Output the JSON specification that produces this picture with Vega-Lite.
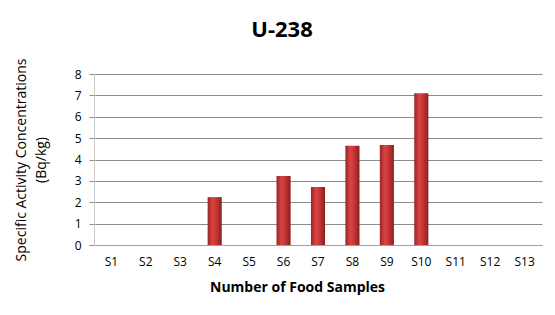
{
  "$schema": "https://vega.github.io/schema/vega-lite/v6.json",
  "autosize": "none",
  "width": 448,
  "height": 171,
  "padding": {"left": 94, "top": 74, "right": 13, "bottom": 70},
  "background": "white",
  "config": {"view": {"stroke": null}, "font": "Open Sans"},
  "title": {
    "text": "U-238",
    "fontSize": 22,
    "fontWeight": "bold",
    "font": "Open Sans",
    "color": "#000000",
    "anchor": "middle",
    "dx": -36,
    "offset": 16
  },
  "data": {
    "values": [
      {"sample": "S1", "value": 0},
      {"sample": "S2", "value": 0},
      {"sample": "S3", "value": 0},
      {"sample": "S4", "value": 2.24},
      {"sample": "S5", "value": 0},
      {"sample": "S6", "value": 3.23},
      {"sample": "S7", "value": 2.71},
      {"sample": "S8", "value": 4.64},
      {"sample": "S9", "value": 4.68},
      {"sample": "S10", "value": 7.1},
      {"sample": "S11", "value": 0},
      {"sample": "S12", "value": 0},
      {"sample": "S13", "value": 0}
    ]
  },
  "mark": {
    "type": "bar",
    "color": {
      "gradient": "linear",
      "x1": 0, "x2": 1, "y1": 0, "y2": 0,
      "stops": [
        {"offset": 0, "color": "#9a2424"},
        {"offset": 0.35, "color": "#d94444"},
        {"offset": 0.6, "color": "#c83636"},
        {"offset": 1, "color": "#8a1f1f"}
      ]
    }
  },
  "encoding": {
    "x": {
      "field": "sample",
      "type": "nominal",
      "sort": null,
      "scale": {"paddingInner": 0.59, "paddingOuter": 0.3},
      "axis": {
        "title": "Number of Food Samples",
        "titleFont": "Open Sans",
        "titleFontSize": 14,
        "titleFontWeight": "bold",
        "titleColor": "#000000",
        "titleX": 203,
        "titlePadding": 13,
        "labelAngle": 0,
        "labelFont": "Open Sans",
        "labelFontSize": 12,
        "labelColor": "#000000",
        "labelPadding": 11,
        "ticks": false,
        "domainColor": "#a0a0a0",
        "domainWidth": 1
      }
    },
    "y": {
      "field": "value",
      "type": "quantitative",
      "scale": {"domain": [0, 8], "nice": false},
      "axis": {
        "title": ["Specific Activity Concentrations", "(Bq/kg)"],
        "titleFont": "Open Sans",
        "titleFontSize": 14,
        "titleFontWeight": "normal",
        "titleColor": "#000000",
        "titlePadding": 26,
        "titleLineHeight": 20,
        "values": [0, 1, 2, 3, 4, 5, 6, 7, 8],
        "labelFont": "Open Sans",
        "labelFontSize": 12,
        "labelColor": "#000000",
        "labelPadding": 8,
        "tickSize": 5,
        "tickColor": "#8c8c8c",
        "domainColor": "#c8c8c8",
        "grid": true,
        "gridColor": "#8c8c8c",
        "gridWidth": 1
      }
    }
  }
}
